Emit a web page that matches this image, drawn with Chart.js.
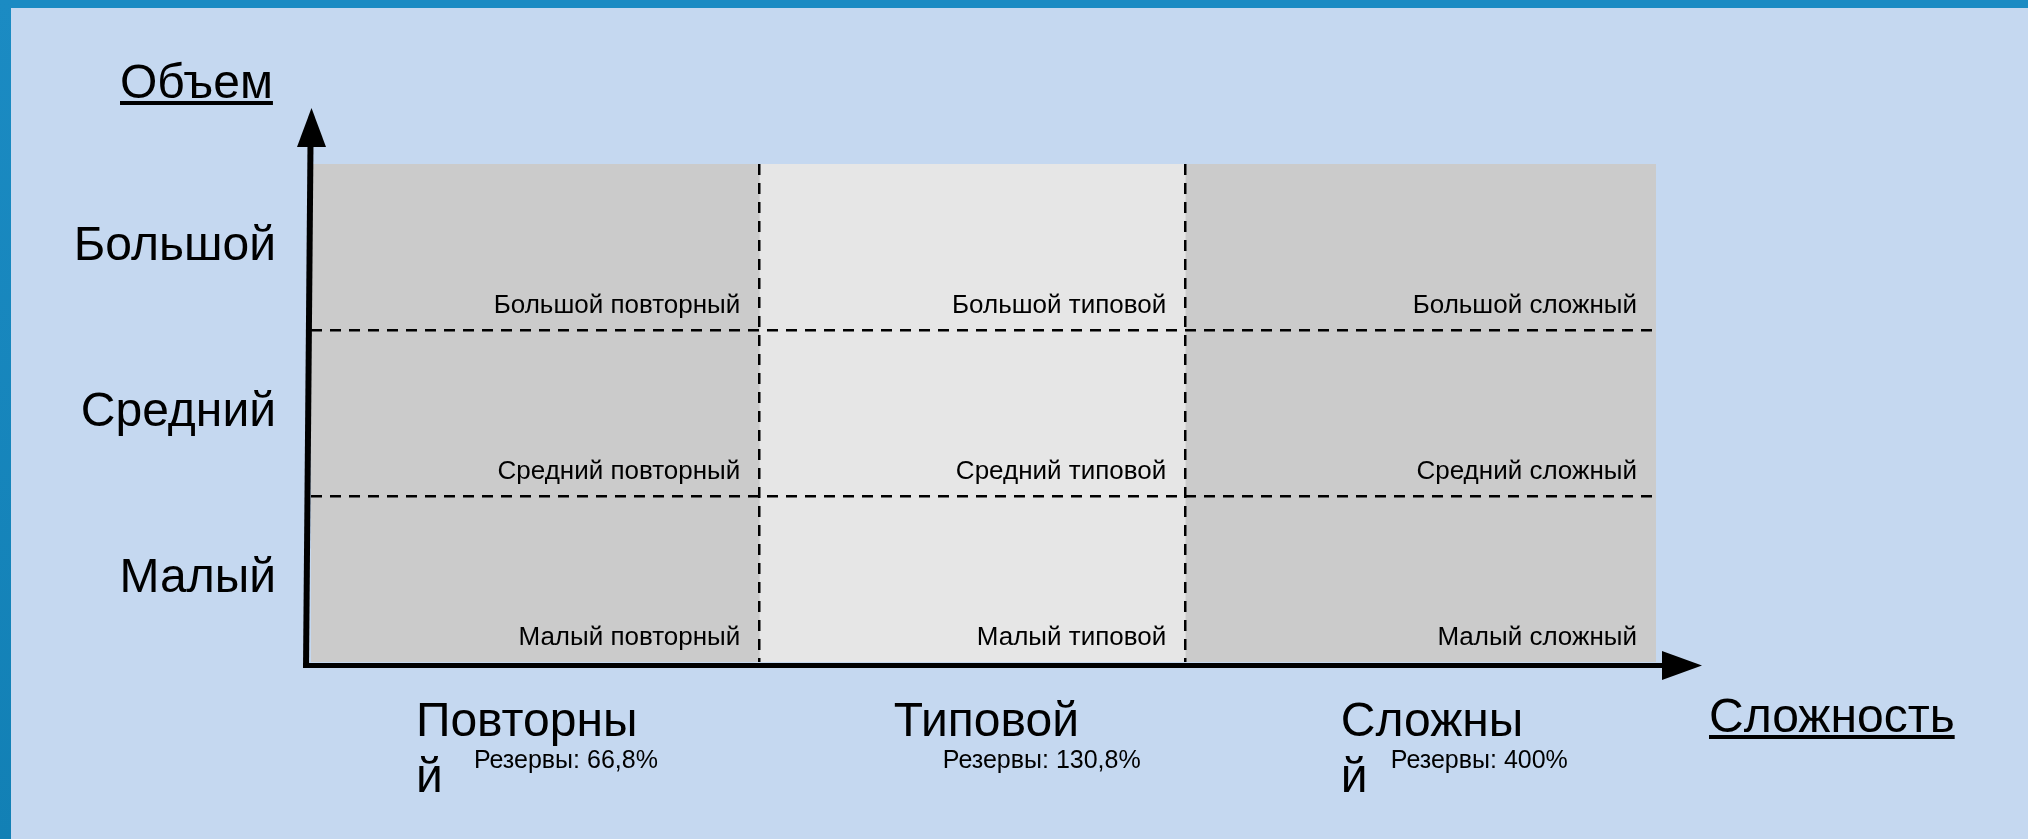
<!DOCTYPE html>
<html lang="ru">
<head>
<meta charset="utf-8">
<title>Объем / Сложность</title>
<script src="https://cdn.jsdelivr.net/npm/chart.js@4.4.1/dist/chart.umd.min.js"></script>
<style>
  html, body { margin: 0; padding: 0; }
  body { width: 2028px; height: 839px; background: #c5d8f0; position: relative; overflow: hidden; }
  .frame-top { position: absolute; left: 0; top: 0; width: 2028px; height: 8px; background: #1b8bc3; }
  .frame-left { position: absolute; left: 0; top: 0; width: 11px; height: 839px; background: linear-gradient(#1b8bc3, #1280b5); }
  #matrix { position: absolute; left: 0; top: 0; }
</style>
</head>
<body>
<div class="frame-top"></div>
<div class="frame-left"></div>
<canvas id="matrix" width="2028" height="839"></canvas>
<script>
// === DATA ===
const volumeLevels = ['Большой', 'Средний', 'Малый'];
const complexityLabels = [['Повторны', 'й'], 'Типовой', ['Сложны', 'й']];
const columnEdges = [0, 1, 1.95, 3];
const reserves = ['Резервы: 66,8%', 'Резервы: 130,8%', 'Резервы: 400%'];
const cellLabels = [
  ['Большой повторный', 'Средний повторный', 'Малый повторный'],
  ['Большой типовой', 'Средний типовой', 'Малый типовой'],
  ['Большой сложный', 'Средний сложный', 'Малый сложный']
];

// === STYLE ===
const FONT = "'Liberation Sans', Arial, sans-serif";
const columnColors = ['#cbcbcb', '#e6e6e6', '#cbcbcb'];
const labelShift = [0.234, 0.30, 0.347];   // tick label start inside each column
const reserveShift = [58, 49, 50];          // px right of the tick label start
const DASH = [11, 8];

Chart.defaults.font.family = FONT;
Chart.defaults.color = '#000';

function underlined(ctx, text, x, y) {
  ctx.fillText(text, x, y);
  const w = ctx.measureText(text).width;
  ctx.fillRect(x, y + 3, w, 4);
}

// === DECORATION: cell captions, arrows, axis titles, reserves ===
const decorPlugin = {
  id: 'decor',
  afterDatasetsDraw(chart) {
    const ctx = chart.ctx;
    ctx.save();
    ctx.font = `26px ${FONT}`;
    ctx.fillStyle = '#000';
    ctx.textAlign = 'right';
    ctx.textBaseline = 'alphabetic';
    chart.data.datasets.forEach((ds, i) => {
      chart.getDatasetMeta(i).data.forEach((bar, j) => {
        const right = Math.max(bar.x, bar.base);
        const bottom = bar.y + bar.height / 2;
        ctx.fillText(cellLabels[i][j], right - 19, bottom - 17);
      });
    });
    ctx.restore();
  },
  afterDraw(chart) {
    const ctx = chart.ctx;
    const { left, right, top, bottom } = chart.chartArea;
    ctx.save();
    ctx.fillStyle = '#000';
    ctx.strokeStyle = '#000';

    // vertical axis
    ctx.lineWidth = 6;
    ctx.beginPath();
    ctx.moveTo(left - 5, bottom + 6);
    ctx.lineTo(left - 0.5, top - 20);
    ctx.stroke();
    ctx.beginPath();
    ctx.moveTo(left + 0.5, top - 56);
    ctx.lineTo(left - 14, top - 17);
    ctx.lineTo(left + 15, top - 17);
    ctx.closePath();
    ctx.fill();

    // horizontal axis
    const ay = bottom + 3.5;
    ctx.lineWidth = 5;
    ctx.beginPath();
    ctx.moveTo(left - 8, ay);
    ctx.lineTo(right + 8, ay);
    ctx.stroke();
    ctx.beginPath();
    ctx.moveTo(right + 46, ay);
    ctx.lineTo(right + 6, ay - 14.5);
    ctx.lineTo(right + 6, ay + 14.5);
    ctx.closePath();
    ctx.fill();

    // axis titles
    ctx.font = `48px ${FONT}`;
    ctx.textAlign = 'left';
    ctx.textBaseline = 'alphabetic';
    underlined(ctx, 'Объем', left - 191, top - 66);
    underlined(ctx, 'Сложность', right + 53, bottom + 70);

    // reserves under each column label
    ctx.font = `25px ${FONT}`;
    const xs = chart.scales.x;
    xs.ticks.forEach((t, i) => {
      ctx.fillText(reserves[i], xs.getPixelForValue(t.value) + reserveShift[i], bottom + 106);
    });
    ctx.restore();
  }
};

// === CHART ===
new Chart(document.getElementById('matrix'), {
  type: 'bar',
  data: {
    labels: volumeLevels,
    datasets: columnEdges.slice(0, -1).map((start, i) => ({
      label: cellLabels[i][0],
      data: volumeLevels.map(() => [start, columnEdges[i + 1]]),
      backgroundColor: columnColors[i],
      borderWidth: 0,
      barPercentage: 1,
      categoryPercentage: 1,
      grouped: false,
      xAxisID: 'x',
      yAxisID: 'y'
    }))
  },
  options: {
    indexAxis: 'y',
    responsive: false,
    animation: false,
    layout: { padding: { top: 164, right: 372, left: 0, bottom: 0 } },
    plugins: { legend: { display: false }, tooltip: { enabled: false } },
    scales: {
      x: {
        type: 'linear',
        position: 'bottom',
        min: 0,
        max: 3,
        grid: { display: false },
        border: { display: false },
        afterBuildTicks: s => {
          s.ticks = columnEdges.slice(0, -1).map((e, i) => ({ value: e + labelShift[i] }));
        },
        afterFit: s => { s.height = 177; },
        ticks: {
          autoSkip: false,
          maxRotation: 0,
          minRotation: 0,
          align: 'start',
          padding: 25,
          color: '#000',
          font: { size: 48, lineHeight: 1.17 },
          callback: (v, i) => complexityLabels[i]
        }
      },
      x2: {
        type: 'linear',
        position: 'top',
        min: 0,
        max: 3,
        afterBuildTicks: s => {
          s.ticks = columnEdges.slice(1, -1).map(v => ({ value: v }));
        },
        afterFit: s => { s.height = 0; },
        ticks: { display: false },
        grid: { color: '#000', lineWidth: 2.5, drawTicks: false, z: 1 },
        border: { display: false, dash: DASH }
      },
      y: {
        type: 'category',
        position: 'left',
        afterFit: s => { s.width = 311; },
        grid: {
          color: c => (c.index === 1 || c.index === 2) ? '#000' : 'rgba(0,0,0,0)',
          lineWidth: 2.5,
          drawTicks: false,
          z: 1
        },
        border: { display: false, dash: DASH },
        ticks: { color: '#000', padding: 35, font: { size: 48 } }
      }
    }
  },
  plugins: [decorPlugin]
});
</script>
</body>
</html>
